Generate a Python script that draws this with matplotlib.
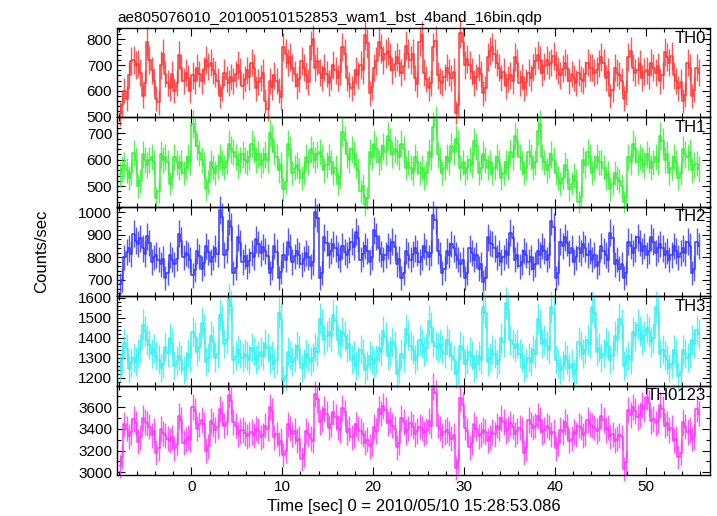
import numpy as np
import matplotlib
matplotlib.use("Agg")
import matplotlib.pyplot as plt
from matplotlib.ticker import MultipleLocator

plt.rcParams["font.family"] = ["Liberation Sans", "DejaVu Sans"]

# 0.25 s bins (16 x 1/64 s), first bin centre at -7.875 s
bin_size = 0.25
t_start = -7.875

th0 = [
    510, 545, 600, 570, 660, 715, 720, 700, 705, 670, 580, 630, 790, 720, 680, 640,
    570, 555, 700, 745, 665, 630, 610, 665, 600, 630, 740, 690, 640, 670, 650, 600,
    660, 640, 690, 665, 640, 680, 720, 695, 710, 680, 665, 640, 580, 610, 670, 645,
    630, 655, 640, 665, 700, 675, 620, 645, 680, 655, 710, 690, 610, 635, 650, 670,
    560, 530, 640, 615, 660, 640, 600, 575, 770, 745, 710, 730, 690, 665, 620, 645,
    715, 690, 660, 635, 775, 800, 690, 715, 670, 650, 690, 665, 630, 655, 700, 680,
    650, 675, 770, 745, 650, 625, 610, 635, 680, 660, 700, 680, 815, 785, 590, 615,
    690, 715, 790, 765, 720, 745, 755, 730, 680, 705, 730, 710, 670, 695, 775, 745,
    720, 745, 650, 625, 790, 815, 670, 645, 610, 630, 770, 795, 660, 640, 630, 655,
    690, 670, 650, 675, 515, 545, 825, 790, 700, 725, 700, 675, 630, 655, 690, 665,
    590, 610, 730, 755, 770, 745, 710, 690, 650, 675, 620, 645, 660, 640, 730, 710,
    630, 655, 610, 635, 670, 650, 690, 715, 740, 720, 670, 695, 720, 700, 710, 735,
    700, 680, 660, 685, 710, 690, 640, 665, 650, 630, 670, 645, 640, 665, 710, 690,
    690, 670, 680, 705, 730, 710, 650, 675, 580, 605, 690, 670, 660, 640, 570, 595,
    730, 755, 690, 670, 680, 705, 650, 675, 680, 660, 710, 690, 670, 695, 640, 660,
    750, 730, 710, 735, 660, 640, 610, 635, 560, 585, 710, 690, 580, 605, 690, 670,
]
th1 = [
    545, 565, 580, 560, 530, 550, 625, 600, 500, 520, 620, 600, 580, 600, 610, 590,
    455, 480, 620, 600, 610, 590, 510, 535, 610, 590, 570, 590, 550, 570, 610, 590,
    735, 705, 650, 625, 600, 580, 490, 515, 590, 570, 550, 575, 610, 590, 570, 595,
    660, 640, 630, 610, 580, 600, 620, 600, 590, 610, 660, 640, 600, 620, 580, 600,
    620, 600, 700, 680, 630, 610, 560, 580, 490, 515, 660, 640, 550, 570, 580, 560,
    530, 550, 610, 590, 640, 620, 600, 620, 630, 610, 560, 580, 610, 590, 550, 570,
    510, 535, 705, 675, 620, 600, 640, 620, 580, 560, 480, 500, 430, 455, 630, 610,
    660, 640, 590, 610, 650, 630, 690, 670, 620, 640, 630, 610, 660, 640, 570, 590,
    570, 550, 610, 590, 550, 570, 530, 550, 630, 610, 725, 750, 620, 600, 550, 570,
    610, 590, 650, 630, 680, 660, 570, 590, 550, 570, 600, 580, 670, 650, 550, 570,
    620, 600, 570, 590, 550, 570, 610, 590, 530, 550, 590, 570, 630, 610, 690, 670,
    610, 590, 550, 570, 630, 610, 570, 590, 710, 735, 610, 590, 560, 580, 620, 600,
    550, 530, 510, 530, 580, 560, 490, 510, 540, 520, 440, 460, 600, 580, 630, 610,
    550, 570, 610, 590, 590, 570, 530, 550, 490, 510, 550, 530, 520, 500, 440, 460,
    610, 590, 660, 640, 590, 610, 600, 580, 620, 600, 570, 590, 610, 590, 690, 670,
    600, 620, 550, 570, 610, 590, 530, 550, 640, 620, 610, 630, 560, 580, 585, 565,
]
th2 = [
    680, 700, 800, 825, 840, 815, 905, 875, 860, 885, 840, 815, 895, 865, 780, 800,
    810, 790, 770, 795, 710, 730, 810, 790, 770, 795, 905, 875, 800, 820, 810, 790,
    720, 745, 830, 805, 750, 775, 850, 825, 780, 800, 840, 815, 1010, 980, 810, 835,
    960, 935, 730, 755, 890, 865, 780, 805, 760, 785, 820, 800, 880, 860, 820, 845,
    830, 805, 730, 755, 850, 825, 710, 735, 810, 790, 870, 845, 780, 805, 830, 810,
    770, 795, 820, 800, 760, 780, 1000, 975, 710, 730, 890, 865, 810, 830, 860, 840,
    810, 790, 850, 825, 810, 835, 870, 845, 915, 885, 790, 815, 850, 830, 780, 800,
    920, 895, 840, 815, 790, 810, 850, 830, 870, 845, 770, 795, 710, 730, 830, 810,
    790, 815, 840, 820, 780, 800, 850, 825, 800, 820, 990, 965, 830, 810, 730, 750,
    830, 810, 860, 840, 810, 790, 770, 790, 710, 730, 840, 820, 790, 810, 750, 770,
    690, 710, 890, 865, 860, 840, 800, 820, 780, 800, 830, 810, 910, 885, 790, 810,
    760, 780, 830, 810, 780, 800, 750, 770, 830, 810, 850, 830, 790, 810, 960, 935,
    710, 730, 870, 850, 890, 865, 820, 840, 780, 800, 840, 820, 860, 840, 810, 830,
    790, 810, 760, 780, 850, 830, 810, 790, 910, 885, 770, 790, 750, 770, 710, 730,
    870, 850, 820, 840, 890, 865, 830, 850, 810, 830, 890, 870, 820, 840, 860, 840,
    810, 830, 790, 810, 850, 830, 800, 820, 840, 820, 870, 850, 730, 750, 870, 850,
]
th3 = [
    1250, 1290, 1375, 1345, 1245, 1275, 1300, 1280, 1320, 1345, 1465, 1435, 1390, 1365, 1320, 1345,
    1310, 1290, 1250, 1270, 1355, 1325, 1400, 1375, 1260, 1285, 1310, 1290, 1240, 1260, 1320, 1300,
    1430, 1405, 1330, 1355, 1475, 1445, 1280, 1300, 1410, 1385, 1300, 1320, 1515, 1485, 1370, 1395,
    1595, 1560, 1290, 1310, 1340, 1320, 1300, 1320, 1310, 1290, 1350, 1330, 1290, 1310, 1330, 1310,
    1370, 1350, 1290, 1310, 1270, 1290, 1525, 1495, 1190, 1210, 1330, 1310, 1280, 1300, 1360, 1340,
    1250, 1270, 1320, 1300, 1280, 1300, 1350, 1330, 1495, 1465, 1390, 1410, 1430, 1410, 1515, 1485,
    1390, 1370, 1430, 1410, 1350, 1370, 1290, 1310, 1260, 1280, 1340, 1320, 1240, 1260, 1310, 1290,
    1270, 1290, 1350, 1330, 1435, 1405, 1310, 1330, 1380, 1360, 1220, 1240, 1320, 1300, 1445, 1415,
    1360, 1340, 1290, 1310, 1390, 1370, 1330, 1350, 1485, 1455, 1380, 1360, 1350, 1370, 1340, 1320,
    1390, 1370, 1310, 1290, 1220, 1240, 1360, 1340, 1270, 1290, 1330, 1310, 1250, 1270, 1310, 1290,
    1555, 1525, 1280, 1300, 1340, 1320, 1270, 1290, 1400, 1380, 1575, 1545, 1390, 1370, 1350, 1370,
    1320, 1300, 1250, 1270, 1300, 1280, 1340, 1320, 1495, 1465, 1370, 1390, 1360, 1340, 1555, 1525,
    1290, 1270, 1240, 1260, 1310, 1290, 1250, 1270, 1220, 1240, 1380, 1360, 1320, 1340, 1390, 1370,
    1555, 1525, 1330, 1350, 1300, 1320, 1380, 1360, 1290, 1310, 1410, 1390, 1495, 1465, 1260, 1280,
    1310, 1290, 1430, 1410, 1465, 1435, 1390, 1410, 1450, 1430, 1380, 1400, 1555, 1525, 1320, 1340,
    1310, 1290, 1250, 1270, 1340, 1320, 1210, 1230, 1340, 1320, 1300, 1320, 1390, 1370, 1440, 1420,
]
th0123 = [
    3060, 3140, 3440, 3400, 3330, 3370, 3490, 3450, 3280, 3320, 3500, 3460, 3450, 3420, 3340, 3380,
    3180, 3220, 3400, 3360, 3340, 3310, 3290, 3320, 3220, 3260, 3520, 3480, 3270, 3300, 3320, 3300,
    3600, 3560, 3400, 3440, 3480, 3440, 3200, 3240, 3470, 3440, 3390, 3420, 3580, 3540, 3430, 3460,
    3710, 3660, 3460, 3430, 3350, 3380, 3390, 3360, 3330, 3350, 3370, 3340, 3400, 3380, 3320, 3340,
    3430, 3400, 3600, 3560, 3320, 3350, 3260, 3290, 3160, 3200, 3440, 3400, 3350, 3380, 3290, 3310,
    3120, 3160, 3380, 3350, 3310, 3290, 3720, 3670, 3460, 3490, 3580, 3540, 3410, 3440, 3550, 3510,
    3410, 3390, 3590, 3550, 3370, 3400, 3320, 3340, 3440, 3400, 3380, 3350, 3270, 3300, 3240, 3260,
    3420, 3380, 3580, 3540, 3610, 3570, 3450, 3480, 3430, 3400, 3230, 3270, 3500, 3460, 3370, 3400,
    3450, 3420, 3350, 3380, 3420, 3400, 3360, 3380, 3470, 3430, 3790, 3730, 3430, 3400, 3340, 3370,
    3390, 3360, 3310, 3340, 3040, 3100, 3680, 3620, 3410, 3380, 3230, 3270, 3440, 3400, 3330, 3350,
    3390, 3370, 3290, 3320, 3370, 3350, 3430, 3400, 3500, 3460, 3380, 3400, 3450, 3420, 3350, 3380,
    3410, 3390, 3180, 3220, 3480, 3440, 3410, 3430, 3520, 3480, 3370, 3390, 3430, 3410, 3350, 3370,
    3220, 3260, 3390, 3370, 3460, 3420, 3290, 3310, 3370, 3350, 3430, 3410, 3340, 3360, 3480, 3440,
    3430, 3410, 3380, 3400, 3520, 3480, 3390, 3410, 3330, 3350, 3290, 3310, 3340, 3320, 3030, 3090,
    3570, 3530, 3600, 3560, 3510, 3530, 3620, 3580, 3690, 3640, 3470, 3490, 3450, 3470, 3620, 3580,
    3430, 3450, 3390, 3410, 3290, 3310, 3140, 3180, 3460, 3420, 3370, 3390, 3310, 3330, 3580, 3540,
]

labels = ["TH0", "TH1", "TH2", "TH3", "TH0123"]
series = [th0, th1, th2, th3, th0123]
colors = ["#ff3838", "#38f038", "#3838ff", "#38f0f0", "#ff38ff"]
ylims = [(497, 844), (422, 760), (628, 1025), (1160, 1608), (2975, 3797)]
major = [100, 100, 100, 100, 200]
minor = [20, 20, 20, 20, 100]

fig = plt.figure(figsize=(7.17, 5.16), dpi=100)
left, right = 117 / 717, 710 / 717
top, bottom = 1 - 28 / 516, 1 - 475 / 516
h = (top - bottom) / 5

for k in range(5):
    ax = fig.add_axes([left, top - (k + 1) * h, right - left, h])
    ax.patch.set_alpha(0)
    rate = np.array(series[k], dtype=float)
    t = t_start + bin_size * np.arange(len(rate))
    err = np.sqrt(rate / bin_size)
    ax.plot(t, rate, drawstyle="steps-mid", color=colors[k], lw=1.1, clip_on=False)
    ax.errorbar(t, rate, yerr=err, fmt="none", ecolor=colors[k], elinewidth=1.0,
                alpha=0.85, capsize=0, clip_on=False)
    ax.set_xlim(-8.2, 57.1)
    ax.set_ylim(*ylims[k])
    ax.xaxis.set_major_locator(MultipleLocator(10))
    ax.xaxis.set_minor_locator(MultipleLocator(2))
    ax.yaxis.set_major_locator(MultipleLocator(major[k]))
    ax.yaxis.set_minor_locator(MultipleLocator(minor[k]))
    ax.tick_params(which="both", direction="in", top=True, right=True, labelsize=11)
    ax.tick_params(which="major", length=6, width=0.8)
    ax.tick_params(which="minor", length=3, width=0.8)
    for s in ax.spines.values():
        s.set_linewidth(1.0)
    if k < 4:
        ax.tick_params(labelbottom=False)
    ax.text(0.993, 0.97, labels[k], transform=ax.transAxes, ha="right", va="top",
            fontsize=12)
    if k == 0:
        ax.set_title("ae805076010_20100510152853_wam1_bst_4band_16bin.qdp",
                     loc="left", fontsize=11, pad=4)
    if k == 2:
        ax.set_ylabel("Counts/sec", fontsize=12, labelpad=21)
    if k == 4:
        ax.set_xlabel("Time [sec] 0 = 2010/05/10 15:28:53.086", fontsize=12, labelpad=4)

fig.savefig("out.png", dpi=100)
